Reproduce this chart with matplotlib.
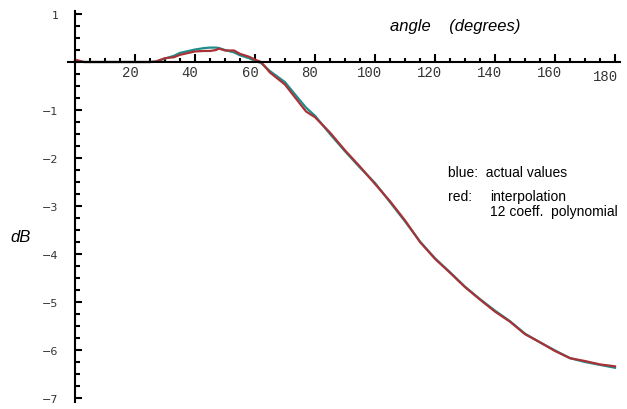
import matplotlib
matplotlib.use("Agg")
import matplotlib.pyplot as plt
import matplotlib.transforms as mtransforms
import numpy as np

# angle in degrees and level in dB
angle = [0, 3, 5, 10, 15, 20, 25, 27, 30, 33, 35, 40, 43, 45, 47, 48, 50, 53, 55, 58,
         60, 62, 65, 70, 75, 77, 80, 85, 90, 95, 100, 105, 110, 115, 120, 125, 130,
         135, 140, 145, 150, 155, 160, 165, 170, 175, 180]
actual = [0.02, 0.0, 0.0, 0.0, 0.0, 0.0, 0.0, 0.01, 0.07, 0.13, 0.19, 0.26, 0.29, 0.30, 0.30, 0.29, 0.25, 0.20, 0.14, 0.08,
          0.02, -0.02, -0.19, -0.42, -0.80, -0.95, -1.12, -1.50, -1.86, -2.20, -2.52, -2.92, -3.32, -3.74, -4.09, -4.38, -4.68,
          -4.94, -5.18, -5.40, -5.66, -5.84, -6.01, -6.17, -6.25, -6.31, -6.37]
interp = [0.05, 0.0, 0.0, 0.0, 0.0, 0.0, 0.0, 0.01, 0.08, 0.10, 0.15, 0.22, 0.23, 0.23, 0.25, 0.28, 0.24, 0.24, 0.17, 0.11,
          0.05, 0.0, -0.22, -0.47, -0.87, -1.03, -1.15, -1.47, -1.84, -2.18, -2.54, -2.90, -3.30, -3.75, -4.10, -4.39, -4.69,
          -4.95, -5.20, -5.41, -5.67, -5.84, -6.02, -6.17, -6.23, -6.30, -6.34]

x_major = [20, 40, 60, 80, 100, 120, 140, 160, 180]
x_minor = [v for v in range(5, 180, 5) if v % 20 != 0]
y_major = [-7, -6, -5, -4, -3, -2, -1, 1]
y_minor = list(np.arange(-7, 1.01, 0.25))

fig = plt.figure(figsize=(6.27, 4.10), dpi=100)
ax = fig.add_axes([0, 0, 1, 1])
ax.set_xlim(-25, 184)
ax.set_ylim(-7.229, 1.3125)

ax.plot(angle, actual, color="#1f8c8c", lw=1.6, solid_joinstyle="miter")
ax.plot(angle, interp, color="#a83236", lw=1.6, solid_joinstyle="miter")

# axes cross at the origin
for s in ["top", "right"]:
    ax.spines[s].set_visible(False)
ax.spines["left"].set_position(("data", 0))
ax.spines["bottom"].set_position(("data", 0))
ax.spines["left"].set_bounds(-7.08, 1.07)
ax.spines["bottom"].set_bounds(-2.3, 181.7)
ax.spines["left"].set_linewidth(1.5)
ax.spines["bottom"].set_linewidth(1.5)

ax.set_xticks(x_major)
ax.set_xticklabels([str(v) for v in x_major], family="Liberation Mono", fontsize=10, color="#333333")
ax.set_xticks(x_minor, minor=True)
ax.set_yticks(y_major)
ax.set_yticklabels([str(v).replace("-", "\u2212") for v in y_major], fontsize=8, color="#333333")
ax.set_yticks(y_minor, minor=True)

ax.tick_params(axis="x", which="major", direction="in", length=6, width=1.5, pad=2)
ax.tick_params(axis="x", which="minor", direction="in", length=3, width=1.5)
ax.tick_params(axis="y", which="major", direction="in", length=5, width=1.5, pad=12)
ax.tick_params(axis="y", which="minor", direction="in", length=3.6, width=1.5)

# nudge the angle labels a little to the left, the last one lower
for v, lab in zip(x_major, ax.get_xticklabels()):
    dx, dy = (-9, -4) if v == 180 else (-5, 0)
    lab.set_transform(lab.get_transform() + mtransforms.ScaledTranslation(dx / 100, dy / 100, fig.dpi_scale_trans))

W, H = 627, 410
fig.text(390 / W, 1 - 31 / H, "angle    (degrees)", fontsize=12, style="italic",
         family="Liberation Sans", va="baseline", ha="left")
fig.text(10 / W, 1 - 242 / H, "dB", fontsize=12, style="italic",
         family="Liberation Sans", va="baseline", ha="left")
fig.text(448 / W, 1 - 177 / H, "blue:  actual values", fontsize=10,
         family="Liberation Sans", va="baseline", ha="left")
fig.text(448 / W, 1 - 201 / H, "red:", fontsize=10,
         family="Liberation Sans", va="baseline", ha="left")
fig.text(490 / W, 1 - 201 / H, "interpolation", fontsize=10,
         family="Liberation Sans", va="baseline", ha="left")
fig.text(490 / W, 1 - 216 / H, "12 coeff.  polynomial", fontsize=10,
         family="Liberation Sans", va="baseline", ha="left")

fig.savefig("out.png", dpi=100)
